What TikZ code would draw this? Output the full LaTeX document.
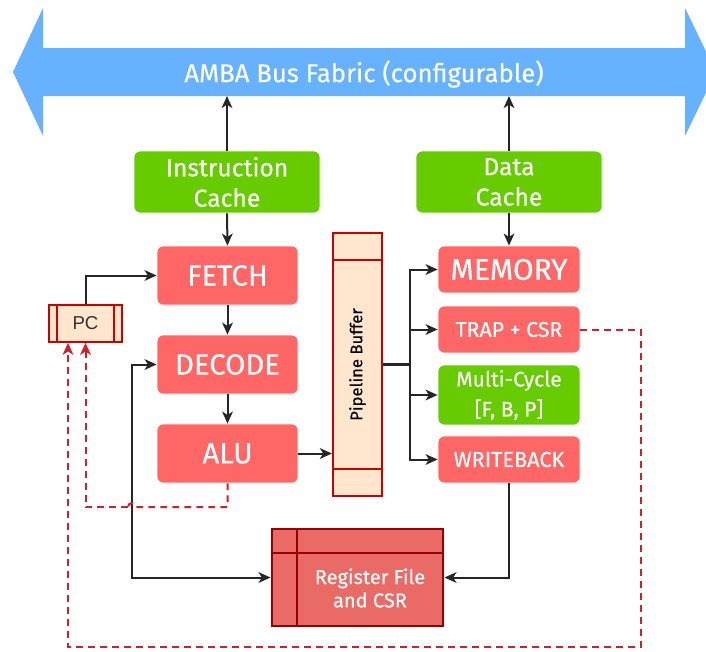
\documentclass[tikz,border=0pt]{standalone}
\usepackage{fontspec}
\setmainfont{Fira Sans}[FakeBold=0.35]
\newfontfamily\pcfont{Liberation Sans}
\usetikzlibrary{arrows.meta}
\definecolor{busblue}{HTML}{66B2FF}
\definecolor{cgreen}{HTML}{66CC00}
\definecolor{cred}{HTML}{FF6666}
\definecolor{cpeach}{HTML}{FFE6CC}
\definecolor{cdred}{HTML}{CC0000}
\definecolor{rffill}{HTML}{EA6B66}
\definecolor{rfdraw}{HTML}{990000}
\definecolor{dashred}{HTML}{D0202A}
\tikzset{
  pbox/.style={rounded corners=4.5pt, draw=white, line width=0.6pt, text=white, align=center, inner sep=0pt},
  gbox/.style={pbox, fill=cgreen},
  rbox/.style={pbox, fill=cred},
  arr/.style={line width=1.5pt, draw=black!85, -{Stealth[length=9pt,width=8pt,inset=2.5pt]}},
  dbl/.style={line width=1.5pt, draw=black!85, {Stealth[length=9pt,width=8pt,inset=2.5pt]}-{Stealth[length=9pt,width=8pt,inset=2.5pt]}},
  darr/.style={line width=1.5pt, draw=dashred, dash pattern=on 5pt off 4pt, -{Stealth[length=9pt,width=8pt,inset=2.5pt]}, dashred},
  dline/.style={line width=1.5pt, draw=dashred, dash pattern=on 5pt off 4pt}
}
\begin{document}
\begin{tikzpicture}[x=0.75pt,y=-0.75pt]
\useasboundingbox (0,0) rectangle (706,651);
\begin{scope}
\clip (0,0) rectangle (706,651);
% bus
\fill[busblue] (13,72) -- (43,8) -- (43,48) -- (685,48) -- (685,8) -- (716,72) -- (685,136) -- (685,96) -- (43,96) -- (43,136) -- cycle;
\end{scope}
\node[text=white, font=\fontsize{19.3}{22}\selectfont] (bus) at (364,74) {AMBA Bus Fabric (configurable)};
\coordinate (busL) at (227,96);
\coordinate (busR) at (509,96);

% caches
\node[gbox, minimum width=186*0.75pt, minimum height=62*0.75pt, font=\fontsize{18.5}{22.8}\selectfont] (ic) at (227,182) {Instruction\\Cache};
\node[gbox, minimum width=186*0.75pt, minimum height=62*0.75pt, font=\fontsize{18.5}{22.8}\selectfont] (dc) at (509,182) {Data\\Cache};

% pipeline stages
\node[rbox, minimum width=141*0.75pt, minimum height=59*0.75pt, font=\fontsize{22}{24}\selectfont] (fetch) at (227.5,275.5) {FETCH};
\node[rbox, minimum width=141*0.75pt, minimum height=59*0.75pt, font=\fontsize{22}{24}\selectfont] (decode) at (227.5,364.5) {DECODE};
\node[rbox, minimum width=141*0.75pt, minimum height=59*0.75pt, font=\fontsize{22}{24}\selectfont] (alu) at (227.5,453.5) {ALU};

\node[rbox, minimum width=142*0.75pt, minimum height=47*0.75pt, font=\fontsize{22.5}{24}\selectfont] (mem) at (509,269.5) {MEMORY};
\node[rbox, minimum width=142*0.75pt, minimum height=47*0.75pt, font=\fontsize{16}{18}\selectfont] (trap) at (509,329.5) {TRAP + CSR};
\node[gbox, minimum width=142*0.75pt, minimum height=60*0.75pt, font=\fontsize{15.8}{22.5}\selectfont] (multi) at (509,395) {Multi-Cycle\\{[F, B, P]}};
\node[rbox, minimum width=142*0.75pt, minimum height=47*0.75pt, font=\fontsize{16.3}{18}\selectfont] (wb) at (509,459.5) {WRITEBACK};

% PC
\node[draw=cdred, fill=cpeach, line width=1.2pt, minimum width=73*0.75pt, minimum height=37*0.75pt, inner sep=0pt, font=\pcfont\fontsize{14}{16}\selectfont, text=black!80] (pc) at (85.5,323.5) {PC};
\draw[cdred, line width=1.2pt] (57,305) -- (57,342) (114,305) -- (114,342);

% pipeline buffer
\node[draw=cdred, fill=cpeach, line width=1.6pt, minimum width=49*0.75pt, minimum height=263*0.75pt, inner sep=0pt] (pb) at (357.5,364.5) {};
\draw[cdred, line width=1.6pt] (333,260) -- (382,260) (333,469) -- (382,469);
\node[rotate=90, font=\fontsize{12.5}{14}\selectfont, text=black] (pbt) at (357.5,364.5) {Pipeline Buffer};

% register file
\node[draw=rfdraw, fill=rffill, line width=2.2pt, minimum width=171*0.75pt, minimum height=97*0.75pt, inner sep=0pt] (rf) at (357.5,577.5) {};
\draw[rfdraw, line width=2.2pt] (297,529) -- (297,626) (272,553) -- (443,553);
\node[text=white, align=center, font=\fontsize{15}{17.5}\selectfont] (rft) at (370,588) {Register File\\and CSR};

% connectors
\draw[arr] (ic.north) -- (busL);
\draw[arr] (dc.north) -- (busR);
\draw[arr] (ic.south) -- (fetch.north);
\draw[arr] (fetch.south) -- (decode.north);
\draw[arr] (decode.south) -- (alu.north);
\draw[arr] (dc.south) -- (mem.north);
\draw[arr] (alu.east) -- (alu.east -| pb.west);
\draw[arr] (pc.north) |- (fetch.west);
\coordinate (sp) at (410,364.5);
\draw[line width=2.2pt, black!85] (pb.east) -- (sp);
\draw[arr] (sp) |- (mem.west);
\draw[arr] (sp) |- (trap.west);
\draw[arr] (sp) |- (multi.west);
\draw[arr] (sp) |- (wb.west);
\coordinate (jx) at (132,0);
\draw[dbl] (decode.west) -- (decode.west -| jx) |- (rf.west);
\draw[arr] (wb.south) |- (rf.east);

% dashed feedback
\coordinate (d1) at (227.5,507);
\coordinate (d2) at (68,647);
\coordinate (d3) at (641,329.5);
\draw[dline] (alu.south) -- (d1) -- (136,507) arc (0:-180:4);
\draw[darr] (128,507) -- (85.5,507) -- (pc.south);
\draw[darr] (trap.east) -- (d3) -- (d3 |- d2) -- (d2) -- (d2 |- pc.south);
\end{tikzpicture}
\end{document}
